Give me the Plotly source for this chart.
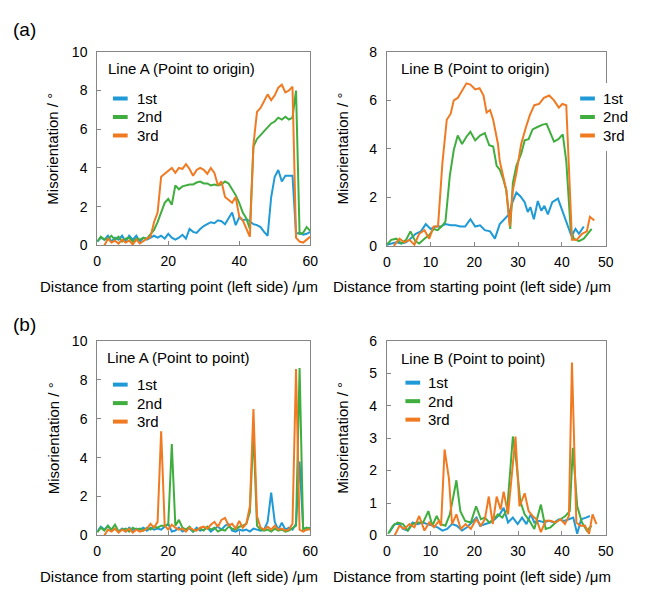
import plotly.graph_objects as go

# ---------------- data ----------------
SERIES = ["1st", "2nd", "3rd"]
COLORS = {"1st": "#1f9ad7", "2nd": "#3fae3f", "3rd": "#f07a22"}

# Line A sampling positions (µm)
a_x = [0, 1, 2, 3, 4, 5, 6, 7, 8, 9, 10, 11, 12, 13, 14, 15, 16, 17, 18, 19, 20,
       21, 22, 23, 24, 25, 26, 27, 28, 29, 30, 31, 32, 33, 34, 35, 36, 37, 38, 39, 40,
       41, 42, 43, 44, 45, 46, 47, 48, 49, 50, 51, 52, 53, 54, 55, 56, 57, 58, 59, 60]
a_x3 = a_x[2:]

# (a) Line A, point to origin
a_org_1st = [0.2, 0.4, 0.3, 0.5, 0.2, 0.4, 0.3, 0.5, 0.2, 0.5,
             0.3, 0.5, 0.2, 0.4, 0.3, 0.4, 0.5, 0.4, 0.5, 0.35,
             0.6, 0.4, 0.3, 0.4, 0.55, 0.35, 0.85, 0.7, 0.65, 0.85,
             1.0, 1.1, 1.2, 1.15, 1.3, 1.25, 1.1, 1.4, 1.7, 1.05,
             1.45, 1.3, 1.35, 1.25, 1.1, 1.05, 0.95, 0.7, 0.5, 2.5,
             3.55, 3.9, 3.3, 3.6, 3.6, 3.6, 0.6, 0.65, 0.55, 0.6, 0.7]
a_org_2nd = [0.2, 0.45, 0.3, 0.35, 0.5, 0.3, 0.45, 0.2, 0.35, 0.4,
             0.2, 0.35, 0.3, 0.4, 0.35, 0.6, 0.8, 1.2, 1.7, 2.2,
             2.4, 2.1, 3.1, 2.9, 3.05, 3.1, 3.15, 3.15, 3.25, 3.3,
             3.2, 3.2, 3.1, 3.15, 3.1, 3.15, 3.3, 3.2, 2.9, 2.6,
             2.2, 1.7, 1.4, 0.85, 5.1, 5.5, 5.7, 5.9, 6.1, 6.3,
             6.4, 6.6, 6.5, 6.65, 6.5, 6.6, 8.0, 0.6, 0.65, 0.95, 0.75]
a_org_3rd = [0.0, 0.35, 0.15, 0.25, 0.1, 0.3, 0.15, 0.25, 0.05, 0.3,
             0.1, 0.25, 0.35, 0.45, 1.2, 1.7, 3.55, 3.7, 3.85, 4.0,
             3.75, 4.0, 3.95, 4.2, 3.95, 3.6, 3.9, 4.0, 3.9, 3.7,
             4.0, 3.75, 3.1, 3.3, 2.5, 2.35, 2.2, 2.5, 1.5, 1.3,
             0.85, 0.45, 5.2, 6.9, 7.1, 7.45, 7.8, 7.5, 7.75, 8.15,
             8.3, 7.9, 8.0, 8.2, 0.4, 0.2, 0.15, 0.3, 0.45]

# (b) Line A, point to point
a_p2p_1st = [0.2, 0.45, 0.3, 0.5, 0.25, 0.35, 0.2, 0.35, 0.2, 0.4,
             0.25, 0.35, 0.3, 0.4, 0.25, 0.4, 0.3, 0.35, 0.3, 0.45,
             0.6, 0.2, 0.25, 0.4, 0.2, 0.3, 0.35, 0.2, 0.4, 0.25,
             0.3, 0.4, 0.2, 0.35, 0.45, 0.3, 0.5, 0.6, 0.25, 0.2,
             0.3, 0.25, 0.3, 0.2, 0.35, 0.3, 0.25, 0.3, 0.7, 2.2,
             0.7, 0.3, 0.65, 0.3, 0.4, 0.3, 0.6, 3.8, 0.4, 0.3, 0.4]
a_p2p_2nd = [0.15, 0.4, 0.25, 0.5, 0.3, 0.55, 0.2, 0.3, 0.35, 0.2,
             0.4, 0.3, 0.35, 0.25, 0.4, 0.3, 0.45, 0.4, 0.5, 0.5,
             0.55, 4.7, 0.5, 0.8, 0.4, 0.3, 0.45, 0.2, 0.3, 0.35,
             0.25, 0.45, 0.3, 0.4, 0.2, 0.3, 0.25, 0.45, 0.35, 0.3,
             0.45, 0.5, 0.6, 1.2, 5.35, 0.5, 0.3, 0.25, 0.3, 0.2,
             0.35, 0.25, 0.3, 0.2, 0.25, 0.4, 0.5, 8.6, 0.3, 0.4, 0.35]
a_p2p_3rd = [0.0, 0.3, 0.2, 0.35, 0.15, 0.3, 0.2, 0.35, 0.15, 0.3,
             0.2, 0.25, 0.35, 0.6, 0.4, 0.7, 5.35, 0.5, 0.3, 0.55,
             0.4, 0.3, 0.35, 0.2, 0.4, 0.3, 0.25, 0.4, 0.45, 0.35,
             0.55, 0.7, 0.45, 0.8, 0.9, 0.5, 0.6, 0.35, 0.75, 0.4,
             0.6, 1.5, 6.5, 1.0, 0.4, 0.3, 0.45, 0.3, 0.5, 0.3,
             0.35, 0.25, 0.3, 0.6, 8.55, 0.3, 0.2, 0.3, 0.3]

# (a) Line B, point to origin (positions)
b_org_1st_x = [0, 1, 2.2, 3.3, 4.4, 5.4, 6.6, 7.8, 8.9, 10, 11.2, 12.3, 13.4, 14.6, 15.7,
               16.8, 17.9, 19.1, 20.2, 21.3, 22.4, 23.6, 24.7, 25.8, 26.9, 27.9, 28.7,
               29.6, 30.5, 31.5, 32.2, 32.8, 33.6, 34.5, 35.3, 36, 36.8, 37.8, 39.1,
               40.2, 41.4, 42.2, 43.1, 43.9, 45]
b_org_1st = [0.05, 0.1, 0.15, 0.1, 0.15, 0.3, 0.5, 0.6, 0.9, 0.7, 0.8, 0.8, 0.9, 0.85, 0.85,
             0.8, 0.8, 1.1, 0.8, 0.85, 0.65, 0.6, 0.3, 0.9, 1.1, 1.3, 1.8,
             2.2, 2.05, 1.8, 1.4, 1.6, 1.1, 1.85, 1.45, 1.65, 1.3, 1.8, 1.95,
             1.4, 0.85, 0.4, 0.7, 0.5, 0.8]
b_org_2nd_x = [0, 1, 2.2, 3.3, 4.4, 5.4, 6.5, 7.4, 8.6, 9.7, 10.7, 11.6, 12.5, 13.4, 14.4,
               15.3, 16.2, 17.2, 18.2, 19.1, 20.2, 21.3, 22.4, 23.4, 24.3, 25.1, 25.8,
               26.6, 27.3, 28.2, 28.8, 29.6, 30.7, 31.5, 32.4, 33.3, 34.4, 35.6, 36.5,
               37.5, 38.2, 39.2, 40.2, 41, 42, 42.7, 43.9, 45, 46.8]
b_org_2nd = [0.05, 0.25, 0.3, 0.1, 0.25, 0.6, 0.2, 0.1, 0.3, 0.45, 0.7, 0.65, 0.8, 1.0, 2.9,
             3.95, 4.55, 4.2, 4.5, 4.7, 4.35, 4.55, 4.65, 4.15, 4.1, 3.3, 3.15,
             2.75, 2.3, 0.7, 2.6, 3.3, 3.8, 4.35, 4.4, 4.8, 4.9, 5.0, 5.03,
             4.6, 4.3, 4.4, 4.6, 3.5, 0.7, 0.3, 0.2, 0.3, 0.7]
b_org_3rd_x = [1.6, 2.9, 4.0, 5.2, 6.3, 7.4, 8.6, 9.7, 10.7, 11.7, 12.7, 13.7, 14.6, 15.3,
               16.2, 17.2, 18.2, 19.1, 20.2, 21.2, 22.1, 22.8, 23.6, 24.3, 24.9, 25.4,
               25.8, 26.6, 27.3, 28.1, 28.8, 29.6, 30.7, 31.8, 32.7, 33.7, 34.8, 35.9,
               37.1, 38.2, 39.3, 40.1, 41.0, 42.3, 43.4, 44.6, 45.7, 46.4, 47.4]
b_org_3rd = [0.0, 0.3, 0.15, 0.25, 0.05, 0.5, 0.65, 0.3, 0.8, 0.8, 3.4, 5.2, 5.45, 6.0,
             6.1, 6.4, 6.7, 6.65, 6.45, 6.5, 6.2, 5.5, 5.6, 5.2, 4.6, 4.2,
             3.5, 2.9, 2.3, 0.8, 2.3, 3.0, 4.2, 4.9, 5.4, 5.8, 5.85, 6.1,
             6.2, 6.0, 5.7, 5.85, 5.8, 0.25, 0.25, 0.5, 0.6, 1.2, 1.05]

# (b) Line B, point to point
b_p2p_1st_x = [0.6, 1.8, 2.9, 3.7, 4.8, 5.9, 7.0, 8.2, 9.3, 10.4, 11.6, 12.7, 13.8, 14.9,
               16.0, 17.2, 18.3, 19.4, 20.5, 21.3, 22.4, 23.6, 24.7, 25.8, 26.7, 27.7,
               28.8, 29.9, 30.9, 31.9, 32.9, 33.7, 34.8, 35.9, 37.0, 38.2, 39.3, 40.5,
               41.6, 42.6, 43.5, 44.4, 45.5, 46.4]
b_p2p_1st = [0.1, 0.35, 0.35, 0.2, 0.15, 0.4, 0.35, 0.4, 0.35, 0.3, 0.25, 0.15, 0.2, 0.35,
             0.3, 0.15, 0.25, 0.4, 0.55, 0.3, 0.35, 0.4, 0.5, 0.65, 0.85, 0.4,
             0.55, 0.35, 0.55, 0.35, 0.65, 0.4, 0.45, 0.4, 0.45, 0.4, 0.5, 0.45,
             0.5, 0.55, 0.05, 0.5, 0.55, 0.6]
b_p2p_2nd_x = [0.3, 1.4, 2.5, 3.7, 4.8, 5.9, 7.0, 8.3, 9.5, 10.4, 11.4, 12.3, 13.4, 14.4,
               15.2, 15.9, 16.8, 17.9, 19.2, 20.4, 21.5, 22.4, 23.4, 24.4, 25.4, 26.4,
               27.5, 28.8, 29.6, 30.5, 31.5, 32.6, 33.7, 34.5, 35.2, 36.3, 37.4, 38.6,
               39.7, 40.8, 41.8, 42.5, 43.5, 44.6, 45.7, 46.8]
b_p2p_2nd = [0.05, 0.3, 0.4, 0.35, 0.15, 0.35, 0.4, 0.4, 0.75, 0.3, 0.6, 0.35, 0.3, 0.65,
             1.2, 1.7, 0.75, 0.45, 0.4, 0.9, 0.5, 0.55, 0.4, 0.5, 0.65, 0.55,
             0.8, 3.05, 2.25, 1.05, 0.65, 0.45, 0.2, 0.65, 0.95, 0.2, 0.25, 0.4,
             0.5, 0.6, 0.75, 2.7, 0.9, 0.4, 0.15, 0.3]
b_p2p_3rd_x = [1.8, 2.9, 4.0, 5.2, 6.3, 7.4, 8.6, 9.7, 10.8, 11.9, 12.4, 13.2, 14.2, 14.9,
               15.9, 16.9, 18.0, 19.2, 20.4, 21.5, 22.4, 23.3, 24.2, 25.1, 26.0, 26.7,
               27.7, 28.7, 29.4, 30.3, 31.5, 32.4, 33.3, 34.2, 35.2, 36.3, 37.4, 38.5,
               39.7, 40.7, 41.6, 42.3, 43.3, 44.2, 45.3, 46.2, 47.0, 47.9]
b_p2p_3rd = [0.0, 0.3, 0.2, 0.35, 0.25, 0.6, 0.15, 0.4, 0.25, 0.45, 0.3, 2.65, 1.75, 0.35,
             0.65, 0.2, 0.35, 0.2, 0.5, 0.3, 0.5, 1.2, 0.35, 1.2, 0.8, 1.35,
             0.65, 2.05, 3.05, 0.9, 1.3, 0.75, 0.6, 0.5, 0.1, 0.45, 0.45, 0.4,
             0.5, 0.35, 0.6, 5.33, 0.4, 0.3, 0.3, 0.05, 0.65, 0.35]

# ---------------- figure ----------------
W, H = 649, 596
FONT = "Liberation Sans, Arial, sans-serif"

# panel pixel boxes: (left, right, top, bottom)
panels = [
    dict(ax="", box=(95, 312, 45, 244), xr=[0, 60], xd=20, yr=[0, 10], yd=2,
         title="Line A (Point to origin)",
         data={"1st": (a_x, a_org_1st), "2nd": (a_x, a_org_2nd), "3rd": (a_x3, a_org_3rd)},
         leg=(111, 133, 93), ttl=(104, 62)),
    dict(ax="2", box=(390, 613, 45, 244.5), xr=[0, 50], xd=10, yr=[0, 8], yd=2,
         title="Line B (Point to origin)",
         data={"1st": (b_org_1st_x, b_org_1st), "2nd": (b_org_2nd_x, b_org_2nd),
               "3rd": (b_org_3rd_x, b_org_3rd)},
         leg=(587, 608, 93), ttl=(402, 62)),
    dict(ax="3", box=(95, 312, 342, 542), xr=[0, 60], xd=20, yr=[0, 10], yd=2,
         title="Line A (Point to point)",
         data={"1st": (a_x, a_p2p_1st), "2nd": (a_x, a_p2p_2nd), "3rd": (a_x3, a_p2p_3rd)},
         leg=(111, 133, 387), ttl=(103, 359)),
    dict(ax="4", box=(390, 613, 342, 542), xr=[0, 50], xd=10, yr=[0, 6], yd=1,
         title="Line B (Point to point)",
         data={"1st": (b_p2p_1st_x, b_p2p_1st), "2nd": (b_p2p_2nd_x, b_p2p_2nd),
               "3rd": (b_p2p_3rd_x, b_p2p_3rd)},
         leg=(409, 430, 385), ttl=(402, 360)),
]

fig = go.Figure()
shapes, annotations = [], []


def px(xp):
    return xp / W


def py(yp):
    return 1 - yp / H


axis_common = dict(showline=True, linecolor="#868686", linewidth=1, mirror=True,
                   ticks="inside", ticklen=4, tickcolor="#868686", showgrid=False,
                   zeroline=False, tickfont=dict(family=FONT, size=14, color="#000"),
                   fixedrange=True)

for p in panels:
    l, r, t, b = p["box"]
    ax = p["ax"]
    fig.update_layout(**{
        "xaxis" + ax: dict(axis_common, domain=[px(l), px(r)], range=p["xr"], dtick=p["xd"],
                           tick0=0, anchor="y" + ax, ticklabelstandoff=3),
        "yaxis" + ax: dict(axis_common, domain=[py(b), py(t)], range=p["yr"], dtick=p["yd"],
                           tick0=0, anchor="x" + ax, ticklabelstandoff=6),
    })
    for s in SERIES:
        xs, ys = p["data"][s]
        fig.add_trace(go.Scatter(x=xs, y=ys, mode="lines", name=s, showlegend=False,
                                 line=dict(color=COLORS[s], width=2),
                                 xaxis="x" + ax, yaxis="y" + ax))
    # panel title
    annotations.append(dict(text=p["title"], x=px(p["ttl"][0]), y=py(p["ttl"][1]),
                            xref="paper", yref="paper", xanchor="left", yanchor="middle",
                            showarrow=False, font=dict(family=FONT, size=15, color="#000")))
    # legend
    lx, tx, ly = p["leg"]
    if ax == "2":
        shapes.append(dict(type="rect", xref="paper", yref="paper", layer="above",
                           x0=px(583), x1=px(645), y0=py(77), y1=py(147),
                           fillcolor="white", line=dict(width=0)))
    for i, s in enumerate(SERIES):
        yy = ly + i * 19
        shapes.append(dict(type="line", xref="paper", yref="paper", layer="above",
                           x0=px(lx), x1=px(lx + 15), y0=py(yy), y1=py(yy),
                           line=dict(color=COLORS[s], width=4)))
        annotations.append(dict(text=s, x=px(tx), y=py(yy), xref="paper", yref="paper",
                                xanchor="left", yanchor="middle", showarrow=False,
                                font=dict(family=FONT, size=15, color="#000")))
    # axis titles
    annotations.append(dict(text="Misorientation / °", x=px(l - 45), y=py((t + b) / 2),
                            xref="paper", yref="paper", xanchor="center", yanchor="middle",
                            textangle=-90, showarrow=False,
                            font=dict(family=FONT, size=15, color="#000")))
    annotations.append(dict(text="Distance from starting point (left side) /μm",
                            x=px((l + r) / 2 - 25), y=py(b + 42), xref="paper", yref="paper",
                            xanchor="center", yanchor="middle", showarrow=False,
                            font=dict(family=FONT, size=15, color="#000")))

for lab, yy in (("(a)", 22), ("(b)", 325)):
    annotations.append(dict(text=lab, x=px(7), y=py(yy), xref="paper", yref="paper",
                            xanchor="left", yanchor="middle", showarrow=False,
                            font=dict(family=FONT, size=19, color="#000")))

fig.update_layout(width=W, height=H, margin=dict(l=0, r=0, t=0, b=0),
                  paper_bgcolor="white", plot_bgcolor="white",
                  shapes=shapes, annotations=annotations, showlegend=False)

fig.write_html("out.html",
               config={"displayModeBar": False, "staticPlot": True},
               post_script="document.body.style.margin='0';"
                           "document.body.style.overflow='hidden';")
